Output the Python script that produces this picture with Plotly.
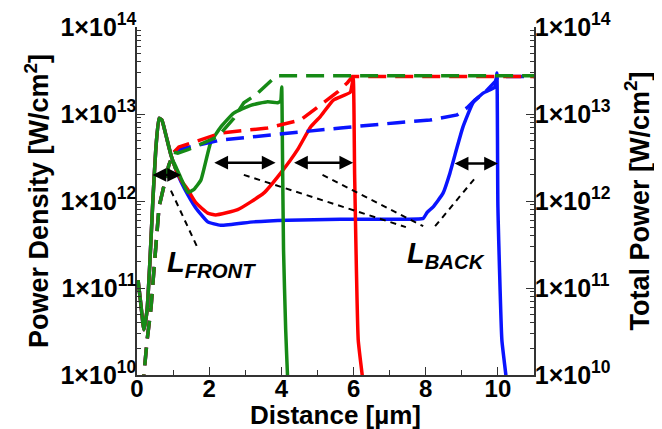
import plotly.graph_objects as go

# ---------------- data (log10 of power values) ----------------
# common start of the solid (power density) curves
start_x = [0.03, 0.11, 0.19, 0.28, 0.36, 0.44, 0.52, 0.61, 0.69, 0.80, 0.94, 1.08]
start_log = [11.09, 10.80, 10.52, 10.75, 11.32, 12.01, 12.59, 12.95, 12.93, 12.76, 12.53, 12.36]

red_x = [1.22, 1.41, 1.63, 1.96, 2.18, 2.79, 3.51, 3.98, 4.45, 4.81, 5.08, 5.44, 5.91, 5.99, 6.03, 6.13, 6.24, 6.30]
red_log = [12.24, 12.13, 11.98, 11.86, 11.84, 11.90, 12.09, 12.32, 12.59, 12.85, 12.97, 13.16, 13.25, 13.41, 12.30, 10.40, 10.00, 9.80]

blue_x = [1.22, 1.41, 1.63, 1.96, 2.32, 3.23, 4.17, 5.64, 6.74, 7.93, 8.04, 8.20, 8.48, 8.67, 8.87, 9.03, 9.31, 9.59, 9.92, 9.97, 10.00, 10.11, 10.22, 10.25]
blue_log = [12.22, 12.07, 11.92, 11.76, 11.72, 11.76, 11.78, 11.79, 11.79, 11.80, 11.87, 11.93, 12.09, 12.32, 12.62, 12.85, 13.13, 13.24, 13.31, 13.47, 11.93, 10.40, 10.00, 9.83]

green_x = [0.99, 1.22, 1.41, 1.57, 1.77, 2.04, 2.32, 2.68, 3.15, 3.62, 3.90, 3.98, 4.01, 4.03, 4.06, 4.12, 4.17, 4.20]
green_log = [12.47, 12.26, 12.10, 12.13, 12.24, 12.67, 12.85, 13.01, 13.10, 13.14, 13.13, 13.15, 13.31, 12.59, 11.44, 10.52, 10.00, 9.83]

# common start of the dashed (total power) curves
tstart_x = [0.17, 0.19, 0.28, 0.39, 0.47, 0.52, 0.61, 0.75, 0.88, 1.02]
tstart_log = [9.80, 10.00, 10.40, 10.78, 11.21, 11.47, 11.93, 12.18, 12.41, 12.56]

tred_x = [1.16, 2.32, 3.62, 4.53, 5.17, 5.55, 5.83, 5.97, 11.0]
tred_log = [12.62, 12.78, 12.84, 12.93, 13.13, 13.25, 13.36, 13.43, 13.43]

tblue_x = [1.13, 2.32, 3.70, 5.64, 7.21, 8.12, 8.87, 9.14, 9.36, 9.64, 9.92, 10.00, 11.0]
tblue_log = [12.59, 12.70, 12.76, 12.84, 12.90, 12.93, 12.99, 13.07, 13.16, 13.25, 13.37, 13.43, 13.43]

tgreen_x = [1.13, 1.41, 1.85, 2.24, 2.68, 2.96, 3.29, 3.51, 3.76, 3.90, 11.0]
tgreen_log = [12.55, 12.59, 12.67, 12.74, 12.95, 13.13, 13.22, 13.31, 13.40, 13.44, 13.44]

# annotation guide lines (dashed black) : (x0, log0, x1, log1)
guide_lines = [
    (0.94, 12.12, 1.68, 11.46),
    (2.96, 12.30, 7.45, 11.70),
    (5.14, 12.30, 7.93, 11.71),
    (8.26, 11.71, 9.42, 12.29),
]
# double-headed arrows: (x_start, x_end, log_y)
arrows = [
    (0.39, 1.22, 12.30),
    (2.10, 3.84, 12.44),
    (4.31, 5.99, 12.44),
    (8.76, 10.00, 12.43),
]

x_tickvals = [0, 2, 4, 6, 8, 10]
x_ticktext = ["0", "2", "4", "6", "8", "10"]
y_exponents = [10, 11, 12, 13, 14]
y_ticktext = ["1×10<sup>%d</sup>" % e for e in y_exponents]

RED = "#ff0000"
BLUE = "#0a14ff"
GREEN = "#168a16"

def pw(v):
    return [10 ** a for a in v]

fig = go.Figure()

# dashed total-power curves (right axis)
for xs, ls, col in [(tstart_x + tblue_x, tstart_log + tblue_log, BLUE),
                    (tstart_x + tred_x, tstart_log + tred_log, RED),
                    (tstart_x + tgreen_x, tstart_log + tgreen_log, GREEN)]:
    fig.add_trace(go.Scatter(x=xs, y=pw(ls), mode="lines", yaxis="y2",
                             line=dict(color=col, width=3.5, dash="18px,9px"),
                             showlegend=False, hoverinfo="skip"))

# solid power-density curves (left axis)
for xs, ls, col in [(start_x + blue_x, start_log + blue_log, BLUE),
                    (start_x + red_x, start_log + red_log, RED),
                    (start_x + green_x, start_log + green_log, GREEN)]:
    fig.add_trace(go.Scatter(x=xs, y=pw(ls), mode="lines",
                             line=dict(color=col, width=3.5, shape="spline", smoothing=0.4),
                             showlegend=False, hoverinfo="skip"))

# dashed guide lines
for x0, l0, x1, l1 in guide_lines:
    fig.add_trace(go.Scatter(x=[x0, x1], y=pw([l0, l1]), mode="lines",
                             line=dict(color="black", width=2, dash="6px,5px"),
                             showlegend=False, hoverinfo="skip"))

annotations = []
for xa, xb, ly in arrows:
    annotations.append(dict(x=xb, y=ly, ax=xa, ay=ly, xref="x", yref="y",
                            axref="x", ayref="y", text="", showarrow=True,
                            arrowhead=2, arrowsize=1.1, arrowwidth=2.5,
                            arrowside="end+start", arrowcolor="black",
                            startarrowhead=2, startarrowsize=1.1))

label_font = dict(family="Liberation Sans, Arial", size=29, color="black", weight="bold", style="italic")
annotations.append(dict(x=0.78, y=11.28, xref="x", yref="y", xanchor="left", yanchor="middle",
                        text="L<sub>FRONT</sub>", showarrow=False, font=label_font))
annotations.append(dict(x=7.43, y=11.38, xref="x", yref="y", xanchor="left", yanchor="middle",
                        text="L<sub>BACK</sub>", showarrow=False, font=label_font))

tickfont = dict(family="Liberation Sans, Arial", size=25, color="black", weight="bold")
xtickfont = dict(family="Liberation Sans, Arial", size=24, color="black", weight="bold")
titlefont = dict(family="Liberation Sans, Arial", size=27, color="black", weight="bold")

# x axis title as paper annotation
annotations.append(dict(x=0.5, y=0, xref="paper", yref="paper", xanchor="center", yanchor="middle",
                        yshift=-40, text="Distance [µm]", showarrow=False,
                        font=dict(family="Liberation Sans, Arial", size=26, color="black", weight="bold")))

minor_y = [m * 10 ** e for e in range(10, 14) for m in range(2, 10)]

yaxis_common = dict(
    type="log", range=[10, 14], tickmode="array", automargin=False,
    tickvals=[10 ** e for e in y_exponents], ticktext=y_ticktext,
    ticks="inside", ticklen=8, tickwidth=1.2, tickcolor="#333",
    showline=True, linecolor="#333", linewidth=1.5, ticklabelstandoff=-6,
    showgrid=False, zeroline=False, tickfont=tickfont,
    minor=dict(ticks="inside", ticklen=4, tickwidth=1, tickcolor="#333",
               tickmode="array", tickvals=minor_y, showgrid=False),
)

# page body has an 8px default margin, so shift the figure accordingly
fig.update_layout(
    width=654, height=421,
    margin=dict(l=129, r=128, t=19, b=54),
    paper_bgcolor="white", plot_bgcolor="white",
    xaxis=dict(range=[0, 11], tickmode="array", tickvals=x_tickvals, ticktext=x_ticktext,
               automargin=False, ticklabelstandoff=-9,
               ticks="inside", ticklen=8, tickwidth=1.2, tickcolor="#333",
               showline=True, linecolor="#333", linewidth=1.5,
               showgrid=False, zeroline=False, tickfont=xtickfont,
               minor=dict(ticks="inside", ticklen=5, tickwidth=1, tickcolor="#333",
                          tickmode="array", tickvals=[1, 3, 5, 7, 9], showgrid=False)),
    yaxis=dict(**yaxis_common,
               title=dict(text="Power Density [W/cm<sup>2</sup>]", font=titlefont, standoff=4)),
    yaxis2=dict(**yaxis_common, overlaying="y", side="right",
                title=dict(text="Total Power [W/cm<sup>2</sup>]", font=titlefont, standoff=20)),
    annotations=annotations,
)

fig.write_html("out.html")
